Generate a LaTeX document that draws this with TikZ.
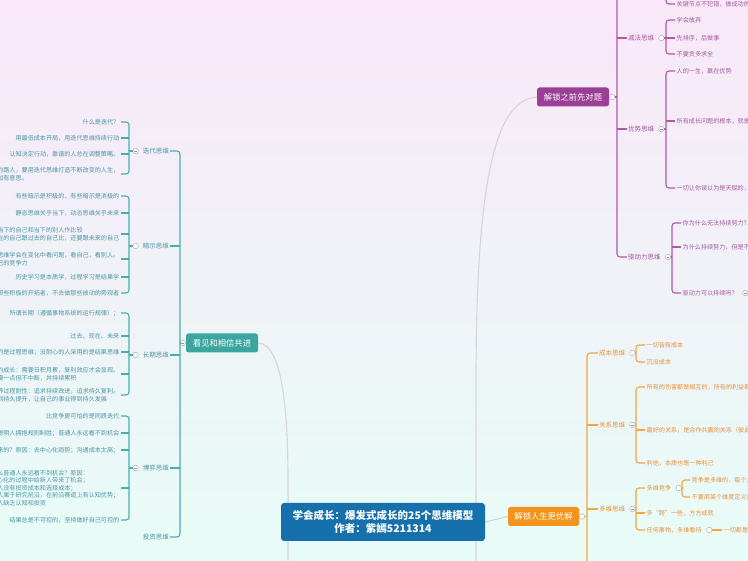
\documentclass[tikz,border=0pt]{standalone}
\usepackage{fontspec}
\setmainfont{Noto Sans CJK SC}
\usetikzlibrary{positioning, calc}
\definecolor{bgtop}{RGB}{249,232,248}
\definecolor{bgbot}{RGB}{231,252,247}
\definecolor{rootfill}{RGB}{22,112,172}
\definecolor{conngray}{RGB}{214,214,214}
\definecolor{tealfill}{RGB}{58,166,158}
\definecolor{tealline}{RGB}{72,176,170}
\definecolor{tealtxt}{RGB}{78,150,165}
\definecolor{purfill}{RGB}{155,62,150}
\definecolor{purline}{RGB}{176,88,170}
\definecolor{purtxt}{RGB}{165,90,160}
\definecolor{orfill}{RGB}{245,148,28}
\definecolor{orline}{RGB}{245,165,60}
\definecolor{ortxt}{RGB}{232,145,60}
\pgfdeclarelayer{back}
\pgfdeclarelayer{links}
\pgfsetlayers{back,links,main}
\tikzset{
  root/.style={fill=rootfill, text=white, rounded corners=3pt, minimum width=204pt,
    minimum height=38pt, align=center, font=\bfseries\fontsize{10.5}{13}\selectfont},
  mainbox/.style={text=white, rounded corners=2.5pt, minimum width=72pt, minimum height=19pt,
    inner sep=1pt, font=\fontsize{8.3}{10}\selectfont},
  subtxt/.style={inner sep=1pt, font=\fontsize{6.5}{8}\selectfont},
  leaf/.style={inner xsep=1.5pt, inner ysep=0.5pt, align=left, font=\fontsize{6.1}{7.6}\selectfont},
  leafT/.style={leaf, text=tealtxt, anchor=east},
  leafP/.style={leaf, text=purtxt, anchor=west},
  leafO/.style={leaf, text=ortxt, anchor=west},
  lineT/.style={draw=tealline, line width=1.1pt, rounded corners=3pt},
  lineP/.style={draw=purline, line width=1.1pt, rounded corners=3pt},
  lineO/.style={draw=orline, line width=1.1pt, rounded corners=3pt},
  conn/.style={draw=conngray, line width=1.1pt},
  hollow/.style={circle, draw=gray!60, fill=white, line width=0.5pt, minimum size=5.5pt, inner sep=0pt},
  fold/.style={hollow, path picture={\draw[gray!80, line width=0.4pt]
    ([xshift=-1.4pt]path picture bounding box.center) -- ([xshift=1.4pt]path picture bounding box.center);}},
}
\begin{document}
\begin{tikzpicture}[x=1pt, y=-1pt]
  \useasboundingbox (0,0) rectangle (748,561);
  \clip (0,0) rectangle (748,561);
  \begin{pgfonlayer}{back}
    \shade[top color=bgtop, bottom color=bgbot] (0,0) rectangle (748,561);
  \end{pgfonlayer}

  % Root and main branches
  \node[root] (root) at (383,522) {学会成长：爆发式成长的25个思维模型\\作者：紫嫣5211314};
  \node[mainbox, fill=tealfill] (kj) at (222,343) {看见和相信共进};
  \node[mainbox, fill=purfill] (jx) at (573,97) {解锁之前先对题};
  \node[mainbox, fill=orfill, minimum width=71pt] (yj) at (543.5,516.5) {解锁人生更优解};
  \node[fold, left=0pt of kj] (kjf) {};
  \node[hollow, right=0pt of jx] (jxf) {};
  \node[hollow, right=0pt of yj] (yjf) {};

  % Links from the root
  \coordinate (bl) at (288,570);
  \coordinate (br) at (476,570);
  \begin{pgfonlayer}{links}
    \draw[conn] (kj.east) .. controls (282,343) and (288,410) .. (288,480) -- (bl);
    \draw[conn] (jx.west) .. controls (500,100) and (476,160) .. (476,380) -- (br);
    \draw[conn] (root.east) -- (yj.west);
  \end{pgfonlayer}

  % Left branch: sub topics
  \coordinate (bxM) at (180,0);
  \coordinate (bxT) at (129,0);
  \node[subtxt, text=tealtxt, anchor=east] (dd) at (170,151) {迭代思维};
  \node[subtxt, text=tealtxt, anchor=east] (ay) at (170,246) {暗示思维};
  \node[subtxt, text=tealtxt, anchor=east] (cq) at (170,355) {长期思维};
  \node[subtxt, text=tealtxt, anchor=east] (by) at (170,468) {博弈思维};
  \node[subtxt, text=tealtxt, anchor=east] (tz) at (170,537) {投资思维};
  \node[fold, left=3pt of dd] (ddf) {};
  \node[hollow, left=3pt of ay] (ayf) {};
  \node[hollow, left=3pt of cq] (cqf) {};
  \node[fold, left=3pt of by] (byf) {};

  \draw[lineT] (dd.east) -- (dd.east -| bxM) -- (tz.east -| bxM) -- (tz.east);
  \foreach \n in {ay,cq,by} \draw[lineT] (\n.east) -- (\n.east -| bxM);
  \draw[lineT] (kjf.west) -- (kjf.west -| bxM);

  % Left branch: leaves
  \node[leafT] (dd1) at (121,122) {什么是迭代？};
  \node[leafT] (dd2) at (121,138) {用最低成本开局，用迭代思维持续行动};
  \node[leafT] (dd3) at (121,154) {认知决定行动，靠谱的人总在调整策略。};
  \node[leafT] (dd4) at (121,174) {不做一成不变的路人，要用迭代思维打造不断改变的人生，\\让人生变得更加有意思。};

  \node[leafT] (ay1) at (121,196) {有些暗示是积极的，有些暗示是消极的};
  \node[leafT] (ay2) at (121,213) {静态思维关乎当下，动态思维关乎未来};
  \node[leafT] (ay3) at (121,234) {不要拿当下的自己和当下的别人作比较\\要拿现在的自己跟过去的自己比，还要跟未来的自己};
  \node[leafT] (ay4) at (121,259) {用动态思维学会在变化中看问题，看自己，看别人。\\提升自己的竞争力};
  \node[leafT] (ay5) at (121,277) {历史学习是本质学，过程学习是结果学};
  \node[leafT] (ay6) at (121,293) {做主动改变的人，去做那些积极的开拓者，不去做那些被动的旁观者};

  \node[leafT] (cq1) at (121,313) {所谓长期（遵循事物系统的运行规律）；};
  \node[leafT] (cq2) at (121,336) {过去、现在、未来};
  \node[leafT] (cq3) at (121,352) {有耐心的人采用的是过程思维；没耐心的人采用的是结果思维};
  \node[leafT] (cq4) at (121,374) {长期主义的成长：需要日积月累，复利效应才会显现。\\每天可以慢一点但不中断，并持续累积};
  \node[leafT] (cq5) at (121,395) {长期思维就是培养过程耐性：追求持续改进，追求持久复利。\\让自己的能力得到持久提升，让自己的事业得到持久发展};

  \node[leafT] (by1) at (121,416) {比竞争更可怕的是同质迭代};
  \node[leafT] (by2) at (121,433) {聪明人拥抱规则制胜；普通人永远看不到机会};
  \node[leafT] (by3) at (121,450) {机会是怎么来的？原因：去中心化趋势；沟通成本太高；};
  \node[leafT] (by4) at (121,488) {为什么普通人永远看不到机会？原因：\\去中心化的过程中给新人带来了机会；\\普通人没有投资成本和选择成本；\\聪明人属于研究前沿，在前沿赛道上有认知优势；\\普通人缺乏认知和投资};
  \node[leafT] (by5) at (121,520) {结果总是不可控的，坚持做好自己可控的};

  \draw[lineT] (dd1.east) -- (dd1.east -| bxT) -- (dd4.east -| bxT) -- (dd4.east);
  \foreach \n in {dd2,dd3} \draw[lineT] (\n.east) -- (\n.east -| bxT);
  \draw[lineT] (ddf.west) -- (ddf.west -| bxT);
  \draw[lineT] (ay1.east) -- (ay1.east -| bxT) -- (ay6.east -| bxT) -- (ay6.east);
  \foreach \n in {ay2,ay3,ay4,ay5} \draw[lineT] (\n.east) -- (\n.east -| bxT);
  \draw[lineT] (ayf.west) -- (ayf.west -| bxT);
  \draw[lineT] (cq1.east) -- (cq1.east -| bxT) -- (cq5.east -| bxT) -- (cq5.east);
  \foreach \n in {cq2,cq3,cq4} \draw[lineT] (\n.east) -- (\n.east -| bxT);
  \draw[lineT] (cqf.west) -- (cqf.west -| bxT);
  \draw[lineT] (by1.east) -- (by1.east -| bxT) -- (by5.east -| bxT) -- (by5.east);
  \foreach \n in {by2,by3,by4} \draw[lineT] (\n.east) -- (\n.east -| bxT);
  \draw[lineT] (byf.west) -- (byf.west -| bxT);

  % Upper right branch
  \coordinate (pTop) at (617,-8);
  \coordinate (gTop) at (666,-8);
  \coordinate (bxP) at (666,0);
  \coordinate (bxQ) at (672,0);
  \node[subtxt, text=purtxt, anchor=west] (jf) at (627,38) {减法思维};
  \node[subtxt, text=purtxt, anchor=west] (ys) at (627,129) {优势思维};
  \node[subtxt, text=purtxt, anchor=west] (qd) at (627,257) {驱动力思维};
  \node[hollow, right=3pt of jf] (jff) {};
  \node[fold, right=3pt of ys] (ysf) {};
  \node[fold, right=3pt of qd] (qdf) {};

  \draw[lineP] (pTop) -- (pTop |- qd.west) -- (qd.west);
  \foreach \n in {jf,ys} \draw[lineP] (\n.west -| pTop) -- (\n.west);
  \draw[lineP] (jxf.east) -- (jxf.east -| pTop);

  \node[leafP] (gj) at (675,4) {关键节点不犯错，做成功的事};
  \node[leafP] (jf1) at (675,20) {学会放弃};
  \node[leafP] (jf2) at (675,38) {先排序，后做事};
  \node[leafP] (jf3) at (675,54) {不要贪多求全};
  \node[leafP] (ys1) at (675,71) {人的一生，赢在优势};
  \node[leafP] (ys2) at (675,121) {所有成长问题的根本，就是发挥优势};
  \node[leafP] (ys3) at (675,188) {一切让你误以为是天赋的，都是刻意练习的结果};
  \node[leafP] (qd1) at (681,223) {你为什么无法持续努力？};
  \node[leafP] (qd2) at (681,247) {为什么持续努力，但是不见成效？};
  \node[leafP] (qd3) at (681,293) {驱动力可以持续吗？};
  \node[fold, right=3pt of qd3] (qd3f) {};

  \draw[lineP] (gTop) |- (gj.west);
  \draw[lineP] (jf1.west) -- (jf1.west -| bxP) -- (jf3.west -| bxP) -- (jf3.west);
  \draw[lineP] (jf2.west -| bxP) -- (jf2.west);
  \draw[lineP] (jff.east) -- (jff.east -| bxP);
  \draw[lineP] (ys1.west) -- (ys1.west -| bxP) -- (ys3.west -| bxP) -- (ys3.west);
  \draw[lineP] (ys2.west -| bxP) -- (ys2.west);
  \draw[lineP] (ysf.east) -- (ysf.east -| bxP);
  \draw[lineP] (qd1.west) -- (qd1.west -| bxQ) -- (qd3.west -| bxQ) -- (qd3.west);
  \draw[lineP] (qd2.west -| bxQ) -- (qd2.west);
  \draw[lineP] (qdf.east) -- (qdf.east -| bxQ);

  % Lower right branch
  \coordinate (oBot) at (587,570);
  \coordinate (bxO) at (636,0);
  \coordinate (bxR) at (682,0);
  \node[subtxt, text=ortxt, anchor=west] (cb) at (598,353) {成本思维};
  \node[subtxt, text=ortxt, anchor=west] (gx) at (598,425) {关系思维};
  \node[subtxt, text=ortxt, anchor=west] (dw) at (598,509) {多维思维};
  \node[hollow, right=3pt of cb] (cbf) {};
  \node[fold, right=3pt of gx] (gxf) {};
  \node[fold, right=3pt of dw] (dwf) {};

  \draw[lineO] (cb.west) -- (cb.west -| oBot) -- (oBot);
  \foreach \n in {gx,dw} \draw[lineO] (\n.west -| oBot) -- (\n.west);
  \draw[lineO] (yjf.east) -- (yjf.east -| oBot);

  \node[leafO] (cb1) at (645,345) {一切皆有成本};
  \node[leafO] (cb2) at (645,362) {沉没成本};
  \node[leafO] (gx1) at (645,387) {所有的伤害都是相互的，所有的利益都是相互的};
  \node[leafO] (gx2) at (645,430) {最好的关系，是合作共赢的关系（彼此成就）};
  \node[leafO] (gx3) at (645,463) {利他，本质也是一种利己};
  \node[leafO] (dw1) at (645,488) {多维竞争};
  \node[leafO] (dw2) at (645,513) {多“跨”一些，方方成就};
  \node[leafO] (dw3) at (645,530) {任何事物，多维看待};
  \node[hollow, right=3pt of dw1] (dw1f) {};
  \node[hollow, right=3pt of dw3] (dw3f) {};
  \node[leafO] (dw11) at (690,480) {竞争是多维的，每个人都有机会};
  \node[leafO] (dw12) at (690,497) {不要用某个维度定义自己的价值};
  \node[leafO] (dw31) at (722,530) {一切都是相对的};

  \draw[lineO] (cb1.west) -- (cb1.west -| bxO) -- (cb2.west -| bxO) -- (cb2.west);
  \draw[lineO] (cbf.east) -- (cbf.east -| bxO);
  \draw[lineO] (gx1.west) -- (gx1.west -| bxO) -- (gx3.west -| bxO) -- (gx3.west);
  \draw[lineO] (gx2.west -| bxO) -- (gx2.west);
  \draw[lineO] (gxf.east) -- (gxf.east -| bxO);
  \draw[lineO] (dw1.west) -- (dw1.west -| bxO) -- (dw3.west -| bxO) -- (dw3.west);
  \draw[lineO] (dw2.west -| bxO) -- (dw2.west);
  \draw[lineO] (dwf.east) -- (dwf.east -| bxO);
  \draw[lineO] (dw11.west) -- (dw11.west -| bxR) -- (dw12.west -| bxR) -- (dw12.west);
  \draw[lineO] (dw1f.east) -- (dw1f.east -| bxR);
  \draw[lineO] (dw3f.east) -- (dw31.west);
\end{tikzpicture}
\end{document}
